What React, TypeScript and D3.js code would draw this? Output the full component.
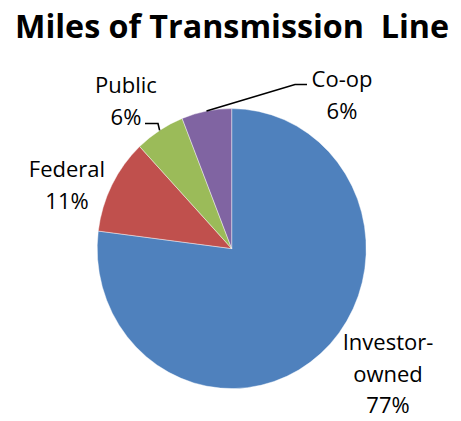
import React from "react";
import * as d3 from "d3";

const categories = ["Investor-owned", "Federal", "Public", "Co-op"];
const values = [77, 11, 6, 6];
const labelLines = [["Investor-", "owned", "77%"], ["Federal", "11%"], ["Public", "6%"], ["Co-op", "6%"]];
const colors = ["#4F81BD", "#C0504D", "#9BBB59", "#8064A2"];
const title = "Miles of Transmission  Line";

// layout
const W = 461, H = 421;
const cx = 231.7, cy = 248.6, rx = 134.5, ry = 140;
const labelPos = [
  { x: 388, y: 350, leader: null as null | [number, number][] },
  { x: 67, y: 177, leader: null },
  { x: 126, y: 93, leader: [[145, 123.5], [158, 123.5]] as [number, number][] },
  { x: 342, y: 87, leader: [[307, 84.5], [295, 84.5]] as [number, number][] },
];
const lineGap = 31.5;

export default function App() {
  const pie = d3.pie<number>().sort(null).value((d) => d)(values);
  const arc = d3.arc<d3.PieArcDatum<number>>().innerRadius(0).outerRadius(rx);
  const sy = ry / rx;
  const edgePoint = (a: d3.PieArcDatum<number>): [number, number] => {
    const mid = (a.startAngle + a.endAngle) / 2;
    return [cx + rx * Math.sin(mid), cy - ry * Math.cos(mid)];
  };
  return (
    <svg width={W} height={H} style={{ position: "absolute", left: 0, top: 0, background: "#fff" }}>
      <text x={232} y={38} textAnchor="middle" fontFamily="'Open Sans', sans-serif" fontWeight="bold" fontSize={33} textLength={434} lengthAdjust="spacingAndGlyphs" fill="#000" style={{ whiteSpace: "pre" }}>
        {title}
      </text>
      <g transform={`translate(${cx},${cy}) scale(1,${sy})`}>
        {pie.map((p, i) => (
          <path key={categories[i]} d={arc(p) || ""} fill={colors[i]} stroke="#ffffff" strokeOpacity={0.6} strokeWidth={0.7} />
        ))}
      </g>
      {pie.map((p, i) => {
        const lp = labelPos[i];
        if (!lp.leader) return null;
        const pts = [...lp.leader, edgePoint(p)];
        return (
          <polyline key={"l" + i} points={pts.map((q) => q.join(",")).join(" ")} fill="none" stroke="#000" strokeWidth={1.6} />
        );
      })}
      {labelLines.map((lines, i) => (
        <text key={"t" + i} textAnchor="middle" fontFamily="'Open Sans', sans-serif" fontSize={22} fill="#000">
          {lines.map((s, j) => (
            <tspan key={j} x={labelPos[i].x} y={labelPos[i].y + j * lineGap}>{s}</tspan>
          ))}
        </text>
      ))}
    </svg>
  );
}
